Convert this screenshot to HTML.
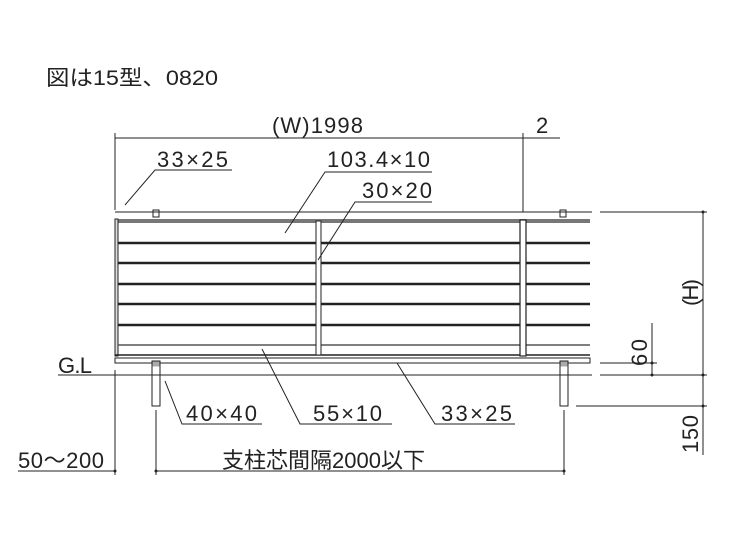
<!DOCTYPE html><html><head><meta charset="utf-8"><style>body{margin:0;background:#fff}svg{display:block}text{font-family:"Liberation Sans","Noto Sans CJK JP",sans-serif;fill:#222}</style></head><body>
<svg width="737" height="553" viewBox="0 0 737 553" xmlns="http://www.w3.org/2000/svg">
<text x="46" y="85" font-size="21" textLength="172" lengthAdjust="spacingAndGlyphs">図は15型、0820</text>
<g stroke="#222" stroke-width="1" fill="none">
<line x1="115" y1="138" x2="560" y2="138"/>
<line x1="115" y1="133" x2="115" y2="210"/>
<line x1="523" y1="133" x2="523" y2="212"/>
<line x1="115" y1="212" x2="592" y2="212"/>
<line x1="600" y1="212" x2="707" y2="212"/>
</g>
<rect x="115" y="219" width="475" height="4" fill="#777"/>
<g stroke="#222" fill="none">
<rect x="115" y="219" width="3" height="137" fill="#ddd" stroke-width="1"/>
<g stroke-width="2.5">
<line x1="118" y1="243" x2="590" y2="243"/>
<line x1="118" y1="263" x2="590" y2="263"/>
<line x1="118" y1="284" x2="590" y2="284"/>
<line x1="118" y1="304" x2="590" y2="304"/>
<line x1="118" y1="325" x2="590" y2="325"/>
</g>
<line x1="118" y1="345" x2="590" y2="345" stroke-width="1.5" stroke="#555"/>
<line x1="115" y1="355" x2="590" y2="355" stroke-width="1.5"/>
<rect x="115" y="358" width="475" height="5" stroke-width="1"/>
<rect x="316" y="221" width="5" height="134" fill="#fff" stroke-width="1"/>
<rect x="520" y="220" width="6" height="136" fill="#fff" stroke-width="1.2"/>
<rect x="153" y="210" width="6" height="7" stroke-width="1"/>
<rect x="560" y="210" width="6" height="7" stroke-width="1"/>
<rect x="152" y="361" width="8" height="45" fill="#fff" stroke-width="1"/>
<rect x="560" y="361" width="8" height="45" fill="#fff" stroke-width="1"/>
<rect x="152.5" y="361.5" width="7" height="5" fill="#aaa" stroke="none"/>
<rect x="560.5" y="361.5" width="7" height="5" fill="#aaa" stroke="none"/>
<line x1="58" y1="375" x2="592" y2="375"/>
<line x1="600" y1="375" x2="707" y2="375"/>
<line x1="600" y1="363" x2="657" y2="363"/>
<line x1="652" y1="323" x2="652" y2="375"/>
<line x1="703" y1="212" x2="703" y2="455"/>
<line x1="576" y1="406" x2="707" y2="406"/>
<line x1="115" y1="370" x2="115" y2="475"/>
<line x1="156" y1="410" x2="156" y2="475"/>
<line x1="564" y1="410" x2="564" y2="475"/>
<line x1="18" y1="471" x2="115" y2="471"/>
<line x1="156" y1="471" x2="564" y2="471"/>
<polyline points="125,205 155,170 232,170"/>
<polyline points="285,233 325,172 432,172"/>
<polyline points="318,260 355,202 432,202"/>
<polyline points="165,381 182,424 262,424"/>
<polyline points="262,349 300,424 392,424"/>
<polyline points="397,363 435,424 515,424"/>
</g>
<g fill="#222"><circle cx="703" cy="212" r="1.5"/><circle cx="703" cy="375" r="1.5"/><circle cx="703" cy="406" r="1.5"/><circle cx="652" cy="363" r="1.5"/><circle cx="652" cy="375" r="1.5"/><circle cx="115" cy="471" r="1.5"/><circle cx="156" cy="471" r="1.5"/><circle cx="564" cy="471" r="1.5"/></g>
<g font-size="22" lengthAdjust="spacingAndGlyphs">
<text x="272" y="133" textLength="91">(W)1998</text>
<text x="536" y="133" textLength="12">2</text>
<text x="157" y="167" textLength="71">33×25</text>
<text x="327" y="167" textLength="103">103.4×10</text>
<text x="362" y="198" textLength="70">30×20</text>
<text x="58" y="373" textLength="34">G.L</text>
<text x="186" y="421" textLength="71">40×40</text>
<text x="313" y="421" textLength="69">55×10</text>
<text x="441" y="421" textLength="71">33×25</text>
<text x="18" y="468" textLength="86">50～200</text>
<text x="222" y="468" textLength="203">支柱芯間隔2000以下</text>
<text transform="translate(698,306) rotate(-90)" textLength="27">(H)</text>
<text transform="translate(647,366) rotate(-90)" textLength="27">60</text>
<text transform="translate(698,453) rotate(-90)" textLength="38">150</text>
</g>
</svg></body></html>
